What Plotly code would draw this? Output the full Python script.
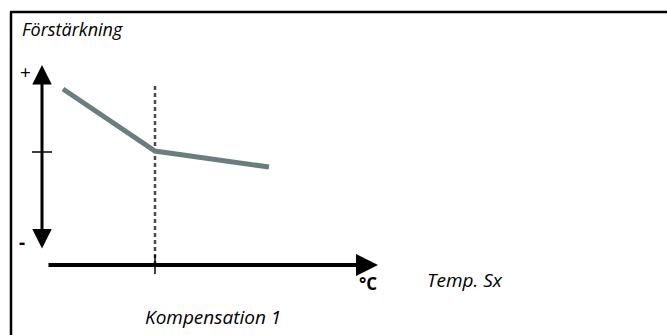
import plotly.graph_objects as go

# schematic units: origin where the two axes meet, y upwards
curve_x = [21, 113, 227]          # Temp. Sx
curve_y = [176, 114, 98]          # Förstärkning
comp_x = 113                      # Kompensation 1
comp_top = 180
gain_tick = 113
gain_axis = [15, 200]             # -, +
temp_axis = [5, 336]

title_text = "Förstärkning"
x_title = "Temp. Sx"
comp_text = "Kompensation 1"
unit_text = "°C"

font = "Open Sans"

fig = go.Figure()

# dashed compensation line
fig.add_trace(go.Scatter(
    x=[comp_x, comp_x], y=[0, comp_top], mode="lines",
    line=dict(color="#4a4a4a", width=2.5, dash="4px,3px"),
    hoverinfo="skip"
))

# gain curve
fig.add_trace(go.Scatter(
    x=curve_x, y=curve_y, mode="lines",
    line=dict(color="#6a7e7f", width=5),
    hoverinfo="skip"
))

# ticks
fig.add_trace(go.Scatter(
    x=[-10, 10], y=[gain_tick, gain_tick], mode="lines",
    line=dict(color="black", width=1.5), hoverinfo="skip"
))
fig.add_trace(go.Scatter(
    x=[comp_x, comp_x], y=[-9, 10], mode="lines",
    line=dict(color="black", width=1.5), hoverinfo="skip"
))

ann = []
# gain axis, double arrow
ann.append(dict(
    x=0, y=gain_axis[1], ax=0, ay=gain_axis[0], xref="x", yref="y",
    axref="x", ayref="y", text="", showarrow=True, arrowside="end+start",
    arrowhead=2, arrowsize=1.3, arrowwidth=3, arrowcolor="black"
))
# temperature axis
ann.append(dict(
    x=temp_axis[1], y=0, ax=temp_axis[0], ay=0, xref="x", yref="y",
    axref="x", ayref="y", text="", showarrow=True,
    arrowhead=2, arrowsize=1.1, arrowwidth=4, arrowcolor="black"
))


def italic(size):
    return dict(family=font, size=size, color="black", style="italic")


ann += [
    dict(x=-22, y=236, text=title_text, xanchor="left", yanchor="middle",
         showarrow=False, font=italic(18)),
    dict(x=383, y=-15, text=x_title, xanchor="left", yanchor="middle",
         showarrow=False, font=italic(19)),
    dict(x=101, y=-52, text=comp_text, xanchor="left", yanchor="middle",
         showarrow=False, font=italic(19)),
    dict(x=326, y=-18, text="<b>" + unit_text + "</b>", xanchor="center",
         yanchor="middle", showarrow=False,
         font=dict(family=font, size=17, color="black")),
    dict(x=-17, y=193, text="+", xanchor="center", yanchor="middle",
         showarrow=False, font=dict(family=font, size=19, color="black")),
    dict(x=-20, y=23, text="<b>-</b>", xanchor="center", yanchor="middle",
         showarrow=False, font=dict(family=font, size=19, color="black")),
]

fig.update_layout(
    width=667, height=335,
    margin=dict(l=0, r=0, t=0, b=0),
    paper_bgcolor="white", plot_bgcolor="white",
    showlegend=False,
    xaxis=dict(range=[-42, 625], visible=False, fixedrange=True),
    yaxis=dict(range=[-70, 265], visible=False, fixedrange=True),
    annotations=ann,
    shapes=[
        dict(type="line", xref="x", yref="y", x0=-32, x1=625, y0=253, y1=253,
             line=dict(color="black", width=2.5)),
        dict(type="line", xref="x", yref="y", x0=-31, x1=-31, y0=253, y1=-70,
             line=dict(color="black", width=2.5)),
    ],
)

fig.write_html("out.html", config={"displayModeBar": False},
               post_script="document.body.style.margin='0';")
